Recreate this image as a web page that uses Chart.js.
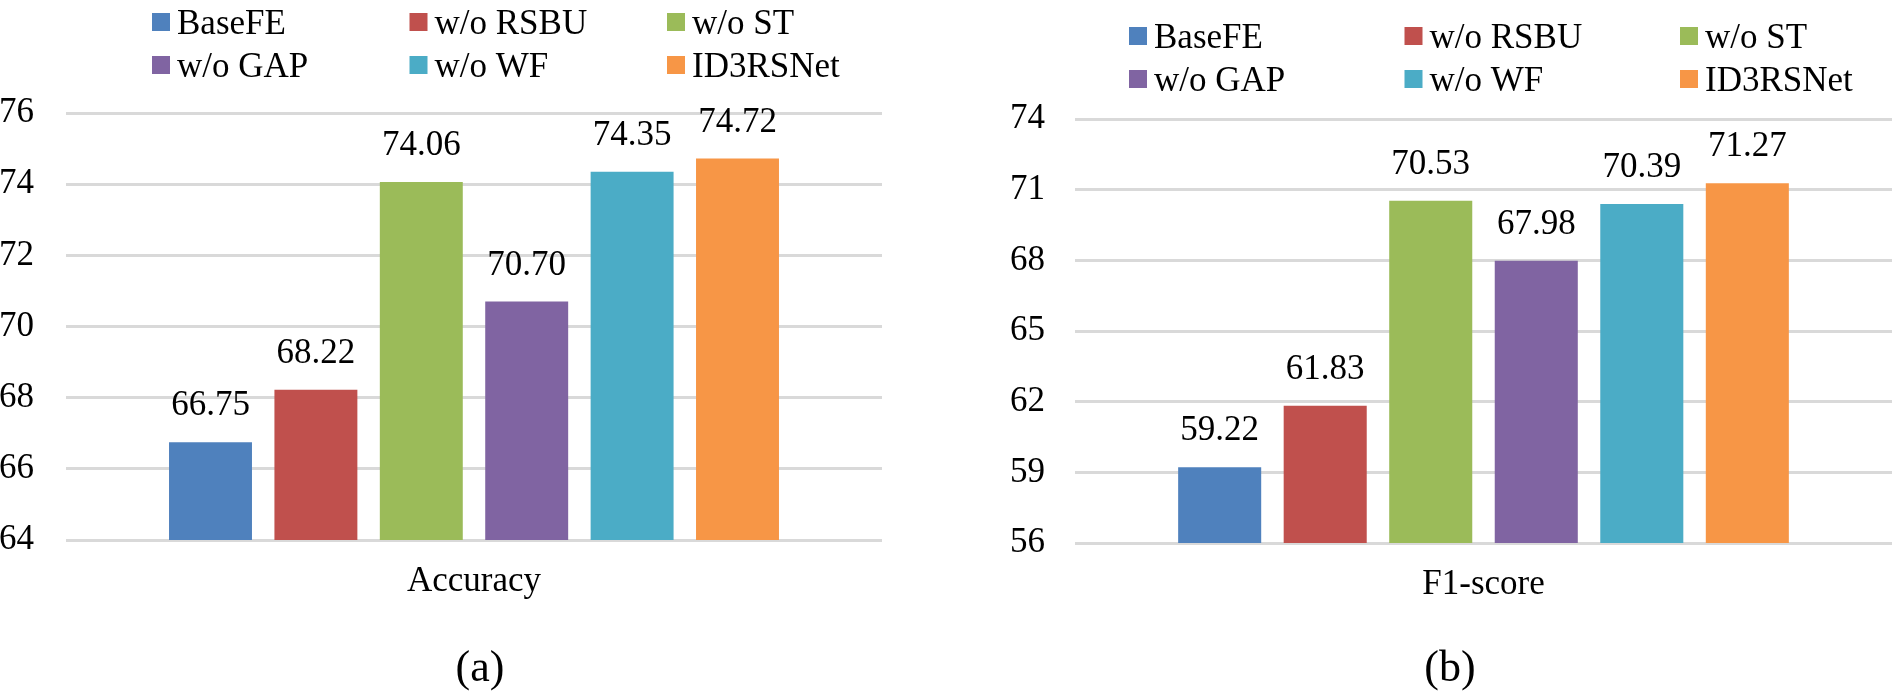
<!DOCTYPE html>
<html><head><meta charset="utf-8">
<script src="https://cdn.jsdelivr.net/npm/chart.js@4.4.1/dist/chart.umd.min.js"></script>
<style>
html,body{margin:0;padding:0;background:#fff;}
#wrap{position:relative;width:1892px;height:696px;overflow:hidden;background:#fff;}
canvas{position:absolute;top:0;}
</style></head><body>
<div id="wrap">
<canvas id="c1" width="946" height="696" style="left:0;width:946px;height:696px"></canvas>
<canvas id="c2" width="946" height="696" style="left:946px;width:946px;height:696px"></canvas>
</div>
<script>
const seriesNames = ['BaseFE', 'w/o RSBU', 'w/o ST', 'w/o GAP', 'w/o WF', 'ID3RSNet'];
const seriesColors = ['#4F81BD', '#C0504D', '#9BBB59', '#8064A2', '#4BACC6', '#F79646'];

const accuracyCategory = ['Accuracy'];
const accuracyValues = [66.75, 68.22, 74.06, 70.70, 74.35, 74.72];
const accuracyTicks = [64, 66, 68, 70, 72, 74, 76];

const f1Category = ['F1-score'];
const f1Values = [59.22, 61.83, 70.53, 67.98, 70.39, 71.27];
const f1Ticks = [56, 59, 62, 65, 68, 71, 74];

const captions = ['(a)', '(b)'];

const FONT = "'Liberation Serif', 'Times New Roman', serif";

const valueLabels = {
  id: 'valueLabels',
  afterDatasetsDraw(chart) {
    const ctx = chart.ctx;
    ctx.save();
    ctx.font = '35px ' + FONT;
    ctx.fillStyle = '#000';
    ctx.textAlign = 'center';
    ctx.textBaseline = 'alphabetic';
    chart.data.datasets.forEach((ds, i) => {
      const meta = chart.getDatasetMeta(i);
      meta.data.forEach((el, j) => {
        ctx.fillText(Number(ds.data[j]).toFixed(2), el.x, el.y - 27);
      });
    });
    ctx.restore();
  }
};

const gridLegend = {
  id: 'gridLegend',
  afterDraw(chart, args, opts) {
    const ctx = chart.ctx;
    ctx.save();
    ctx.font = '35px ' + FONT;
    ctx.textAlign = 'left';
    ctx.textBaseline = 'alphabetic';
    chart.data.datasets.forEach((ds, i) => {
      const col = i % 3, row = Math.floor(i / 3);
      const x = opts.x + col * opts.dx;
      const y = opts.y + row * opts.dy;
      ctx.fillStyle = ds.backgroundColor;
      ctx.fillRect(x, y - 9, 18, 18);
      ctx.fillStyle = '#000';
      ctx.fillText(ds.label, x + 25, y + 11.5);
    });
    ctx.restore();
  }
};

const caption = {
  id: 'caption',
  afterDraw(chart, args, opts) {
    const ctx = chart.ctx;
    ctx.save();
    ctx.font = '44px ' + FONT;
    ctx.fillStyle = '#000';
    ctx.textAlign = 'center';
    ctx.textBaseline = 'alphabetic';
    ctx.fillText(opts.text, opts.x, opts.y);
    ctx.restore();
  }
};

function makeChart(id, categories, values, ticks, capText, L) {
  return new Chart(document.getElementById(id), {
    type: 'bar',
    data: {
      labels: categories,
      datasets: seriesNames.map((n, i) => ({
        label: n,
        data: [values[i]],
        backgroundColor: seriesColors[i],
        borderWidth: 0,
        categoryPercentage: 0.775,
        barPercentage: 0.787
      }))
    },
    options: {
      responsive: false,
      animation: false,
      devicePixelRatio: 1,
      layout: { padding: { top: L.top, right: L.right, left: 0, bottom: 0 } },
      plugins: {
        legend: { display: false },
        tooltip: { enabled: false },
        title: { display: false },
        gridLegend: { x: L.legX, dx: L.legDX, y: L.legY, dy: 43 },
        caption: { text: capText, x: L.capX, y: 681 }
      },
      scales: {
        x: {
          grid: { display: false, drawTicks: false },
          border: { display: false },
          ticks: { font: { family: FONT, size: 35 }, color: '#000', padding: 21 },
          afterFit: s => { s.height = L.xH; }
        },
        y: {
          min: ticks[0],
          max: ticks[ticks.length - 1],
          afterBuildTicks: s => { s.ticks = ticks.map(v => ({ value: v })); },
          grid: { color: '#d9d9d9', lineWidth: 3, drawTicks: false },
          border: { display: false },
          ticks: { font: { family: FONT, size: 35 }, color: '#000', padding: L.yPad },
          afterFit: s => { s.width = L.yW; }
        }
      }
    },
    plugins: [valueLabels, gridLegend, caption]
  });
}

makeChart('c1', accuracyCategory, accuracyValues, accuracyTicks, captions[0],
  { top: 113, right: 64, xH: 156, yW: 66, yPad: 32, legX: 152, legDX: 257.5, legY: 22, capX: 480 });
makeChart('c2', f1Category, f1Values, f1Ticks, captions[1],
  { top: 119, right: 0, xH: 153, yW: 129, yPad: 30, legX: 183, legDX: 275.5, legY: 36, capX: 504 });
</script>
</body></html>
